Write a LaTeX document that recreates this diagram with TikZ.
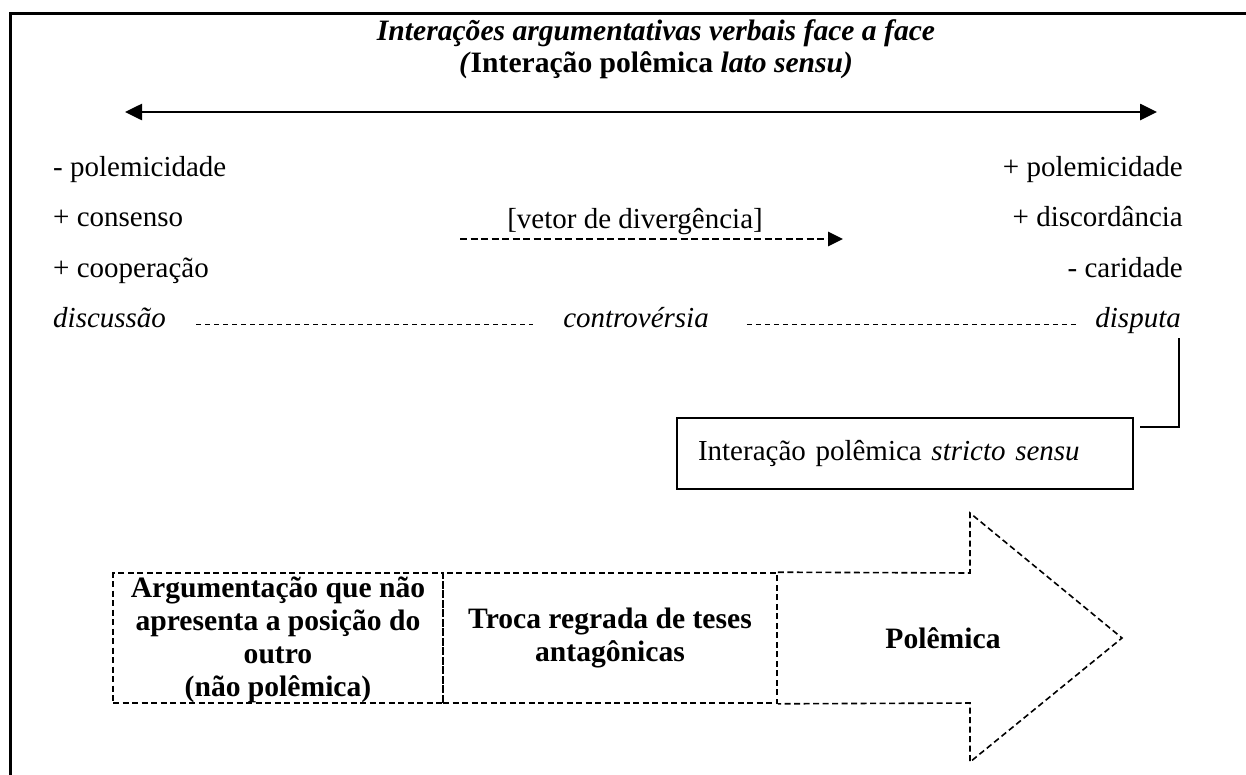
\documentclass[tikz,border=0pt]{standalone}
\usepackage{fontspec}
\setmainfont{Liberation Serif}
\usetikzlibrary{arrows.meta,calc}
\begin{document}
\begin{tikzpicture}[x=1pt,y=-1pt,
  every node/.style={font=\fontsize{29}{32}\selectfont, inner sep=0pt},
  boldfont/.style={font=\fontsize{29.6}{33}\selectfont\bfseries},
  lefttext/.style={anchor=base west},
  righttext/.style={anchor=base east},
  frameline/.style={line width=3pt},
  scale arrow/.style={line width=2.6pt, {Triangle[length=17pt,width=16pt]}-{Triangle[length=17pt,width=16pt]}},
  vector arrow/.style={line width=2.6pt, dash pattern=on 7pt off 3.5pt, -{Triangle[length=15pt,width=14pt]}},
  fine dashes/.style={line width=1pt, dash pattern=on 5pt off 4pt},
  stagebox/.style={draw, line width=1.6pt, dash pattern=on 6pt off 3.5pt, minimum height=130pt,
    align=center, boldfont},
  strictbox/.style={draw, line width=1.8pt, minimum width=456pt, minimum height=71pt,
    text width=414pt, inner xsep=21pt, align=left}
]
\useasboundingbox (0,0) rectangle (1246,774);

% outer frame (top and left edges)
\draw[frameline] (10,776) -- (10,13) -- (1248,13);

% title
\node[align=center, font=\fontsize{29.6}{32.5}\selectfont] (title) at (656,49)
  {\textbf{\textit{Interações argumentativas verbais face a face}}\\
   \textbf{\textit{(}Interação polêmica \textit{lato sensu)}}};

% scale of polemicity
\coordinate (scaleL) at (125,112);
\coordinate (scaleR) at (1157,112);
\draw[scale arrow] (scaleL) -- (scaleR);

% left pole
\node[lefttext] (l1) at (53,176) {- polemicidade};
\node[lefttext] (l2) at (53,226) {+ consenso};
\node[lefttext] (l3) at (53,277) {+ cooperação};
\node[lefttext] (disc) at (53,327) {\textit{discussão}};

% right pole
\node[righttext] (r1) at (1183,176) {+ polemicidade};
\node[righttext] (r2) at (1183,226) {+ discordância};
\node[righttext] (r3) at (1183,277) {- caridade};
\node[righttext] (disp) at (1181,327) {\textit{disputa}};

% divergence vector
\node[anchor=base] (vec) at (635,228) {[vetor de divergência]};
\coordinate (vecA) at (460,239);
\coordinate (vecB) at (843,239);
\draw[vector arrow] (vecA) -- (vecB);

% middle term and the dashed links
\node[anchor=base] (contr) at (636,327) {\textit{controvérsia}};
\draw[fine dashes] ([xshift=30pt,yshift=3pt]disc.base east) -- ([xshift=-30pt,yshift=3pt]contr.base west);
\draw[fine dashes] ([xshift=38pt,yshift=3pt]contr.base east) -- ([xshift=-16pt,yshift=3pt]disp.base west);

% strict-sense polemical interaction
\node[strictbox] (strict) at (905,453.5) {Interação polêmica \textit{stricto sensu}};
\draw[line width=1.8pt] ([xshift=-2pt,yshift=-5pt]disp.south east) |- ([xshift=6pt,yshift=26.5pt]strict.east);

% stages along the arrow (first label sits low, its last line touching the frame)
\node[stagebox, minimum width=330pt, minimum height=130pt] (s1) at (278,638)
  {\raisebox{-9pt}[0pt][0pt]{\begin{tabular}{@{}c@{}}Argumentação que não\\apresenta a posição do\\outro\\(não polêmica)\end{tabular}}};
\node[stagebox, minimum width=334pt] (s2) at (610,638)
  {Troca regrada de teses\\antagônicas};
\draw[line width=1.6pt, dash pattern=on 6pt off 3.5pt]
  (s2.north east) -- (970,573) -- (970,513) -- (1122,638) -- (970,762) -- (970,703) -- (s2.south east);
\node[boldfont] (s3) at (943,638) {Polêmica};
\end{tikzpicture}
\end{document}
